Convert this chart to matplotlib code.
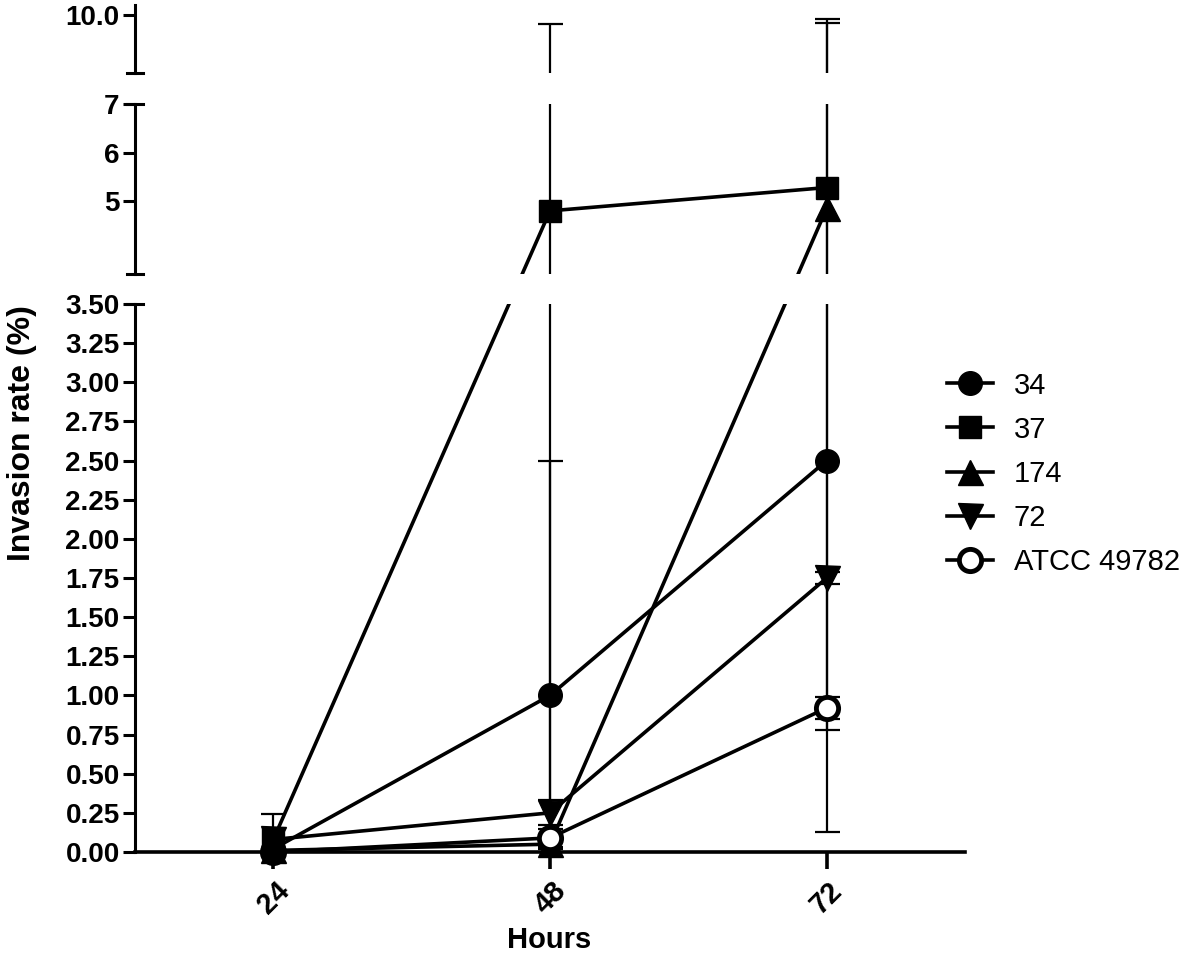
import numpy as np
import matplotlib.pyplot as plt
from matplotlib.lines import Line2D

plt.rcParams['font.family'] = ['Liberation Sans', 'DejaVu Sans']

# %% data

hours = ['24', '48', '72']
names = ['34', '37', '174', '72', 'ATCC 49782']

rate_34 = [0.02, 1.00, 2.50]
err_34 = [0.0, 1.50, 0.0]
rate_37 = [0.08, 4.80, 5.28]
err_37 = [0.0, 4.72, 4.50]
rate_174 = [0.01, 0.05, 4.85]
err_174 = [0.0, 0.03, 4.72]
rate_72 = [0.08, 0.25, 1.75]
err_72 = [0.16, 0.08, 0.04]
rate_atcc = [0.0, 0.09, 0.92]
err_atcc = [0.0, 0.06, 0.07]

rates = [rate_34, rate_37, rate_174, rate_72, rate_atcc]
errs = [err_34, err_37, err_174, err_72, err_atcc]

# %% style

markers = ['o', 's', '^', 'v', 'o']
msizes = [17, 16, 18, 18, 16]
faces = ['k', 'k', 'k', 'k', 'white']
zorders = [10, 5, 6, 7, 8]
W, H = 1200, 958

# segments of the broken y axis: limits, ticks, format, top/bottom in pixels
segs = [
    dict(lim=(0, 3.5), ticks=np.arange(0, 3.51, 0.25), fmt='%.2f', top=304, bot=852),
    dict(lim=(3.5, 7), ticks=[5, 6, 7], fmt='%d', top=104, bot=274),
    dict(lim=(7, 10.5), ticks=[10.0], fmt='%.1f', top=5, bot=73),
]
for s in segs:
    s['b'] = 1 - s['bot'] / H
    s['h'] = (s['bot'] - s['top']) / H

left, right = 135 / W, 965 / W


def seg_of(v):
    if v <= segs[0]['lim'][1]:
        return segs[0]
    if v <= segs[1]['lim'][1]:
        return segs[1]
    return segs[2]


def screen(v):
    s = seg_of(v)
    lo, hi = s['lim']
    return s['b'] + (v - lo) / (hi - lo) * s['h']


def local(s, v):
    # value of v in the data coordinates of segment s (lines join in screen space)
    lo, hi = s['lim']
    return lo + (screen(v) - s['b']) / s['h'] * (hi - lo)


fig = plt.figure(figsize=(W / 100, H / 100), dpi=100)
x = np.arange(len(hours))

axes = []
for k, s in enumerate(segs):
    ax = fig.add_axes([left, s['b'], right - left, s['h']])
    axes.append(ax)
    lo, hi = s['lim']
    for i in range(len(names)):
        v = np.array(rates[i])
        e = np.array(errs[i])
        ys = np.array([local(s, t) for t in v])
        ax.plot(x, ys, color='k', lw=2.6, zorder=2)
        m = e > 0
        if m.any():
            lows = np.array([local(s, t) for t in v - e])
            highs = np.array([local(s, t) for t in v + e])
            ax.errorbar(x[m], ys[m], yerr=[(ys - lows)[m], (highs - ys)[m]], fmt='none',
                        ecolor='k', elinewidth=1.6, capsize=9, capthick=1.6, zorder=1)
        inside = (v >= lo - 1e-9) & (v <= hi + 1e-9)
        if inside.any():
            ax.plot(x[inside], v[inside], ls='none', marker=markers[i], ms=msizes[i],
                    mfc=faces[i], mec='k', mew=3.5 if i == 4 else 1, clip_on=False,
                    zorder=zorders[i])
    ax.set_xlim(-0.5, 2.5)
    ax.set_ylim(lo, hi)
    ax.set_yticks(s['ticks'])
    ax.set_yticklabels([s['fmt'] % t for t in s['ticks']], fontweight='bold')
    for sp in ['top', 'right']:
        ax.spines[sp].set_visible(False)
    ax.spines['left'].set_linewidth(2.2)
    ax.tick_params(axis='y', direction='out', length=9, width=2.2, labelsize=20, pad=2)
    if k == 0:
        ax.spines['bottom'].set_linewidth(2.6)
        ax.set_xticks(x)
        ax.set_xticklabels(hours, rotation=45, ha='center', fontweight='bold')
        ax.tick_params(axis='x', direction='out', length=12, width=2.6, labelsize=21, pad=6)
    else:
        ax.spines['bottom'].set_visible(False)
        ax.set_xticks([])
    ax.patch.set_alpha(0)

# end caps of the axis segments
cw = 8 / W
for yb in [segs[0]['b'] + segs[0]['h'], segs[1]['b'], segs[1]['b'] + segs[1]['h'], segs[2]['b']]:
    fig.add_artist(Line2D([left - cw, left + cw], [yb, yb], transform=fig.transFigure,
                          color='k', lw=2.2))

fig.text(22 / W, 1 - 433 / H, 'Invasion rate (%)', rotation=90, ha='center', va='center',
         fontsize=23, fontweight='bold')
fig.text(549 / W, 1 - 940 / H, 'Hours', ha='center', va='center', fontsize=21, fontweight='bold')

handles = [Line2D([], [], color='k', lw=2.6, marker=markers[i], ms=msizes[i], mfc=faces[i],
                  mec='k', mew=3.5 if i == 4 else 1) for i in range(len(names))]
fig.legend(handles, names, loc='upper left', bbox_to_anchor=(935 / W, 1 - 360 / H), frameon=False,
           fontsize=21, handlelength=1.6, handletextpad=0.7, labelspacing=0.55, borderaxespad=0)

fig.savefig('out.png', dpi=100)
